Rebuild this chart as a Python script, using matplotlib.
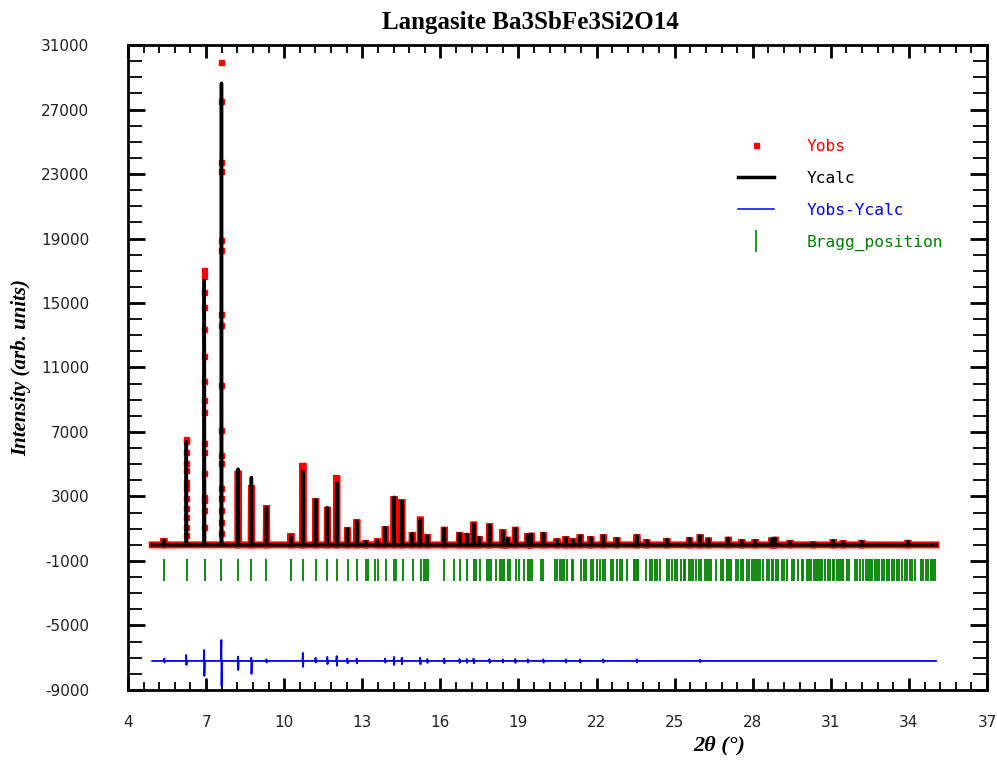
import matplotlib
matplotlib.use("Agg")
import matplotlib.pyplot as plt
from matplotlib.lines import Line2D

plt.rcParams["axes.unicode_minus"] = False

# ---- values ----
tth_range = [4.93, 35.04]        # measured 2theta range
background = 0.0
diff_offset = -7200.0
bragg_lo, bragg_hi = -2250.0, -900.0

x_major = [4, 7, 10, 13, 16, 19, 22, 25, 28, 31, 34, 37]
y_major = [-9000, -5000, -1000, 3000, 7000, 11000, 15000, 19000, 23000, 27000, 31000]

peak_pos = [5.38, 6.24, 6.93, 7.59, 8.23, 8.74, 9.32, 10.26, 10.72, 11.21,
            11.66, 12.02, 12.43, 12.79, 13.13, 13.58, 13.88, 14.22, 14.52, 14.92,
            15.23, 15.50, 16.15, 16.74, 17.02, 17.28, 17.49, 17.89, 18.40, 18.58,
            18.88, 19.36, 19.49, 19.96, 20.48, 20.82, 21.09, 21.37, 21.78, 22.26,
            22.78, 23.55, 23.93, 24.70, 25.57, 25.98, 26.30, 27.06, 27.58, 28.09,
            28.73, 28.86, 29.43, 30.32, 31.09, 31.47, 32.19, 33.96]
calc_top = [300, 6390, 16400, 28630, 4695, 4180, 2320, 550, 4530, 2800,
            2300, 3850, 1000, 1450, 200, 250, 1050, 2950, 2700, 700,
            1550, 550, 1000, 700, 650, 1300, 450, 1200, 850, 400,
            1000, 600, 650, 700, 300, 430, 300, 550, 430, 550,
            380, 550, 250, 330, 380, 550, 350, 400, 250, 250,
            350, 400, 200, 100, 250, 180, 200, 200]
obs_top = [420, 6550, 17070, 29930, 4600, 3700, 2450, 730, 5085, 2900,
           2360, 4320, 1080, 1580, 300, 400, 1160, 3020, 2840, 800,
           1750, 670, 1120, 800, 730, 1440, 530, 1340, 970, 500,
           1120, 720, 750, 800, 400, 530, 400, 650, 530, 650,
           480, 650, 350, 420, 480, 650, 450, 500, 350, 350,
           450, 500, 300, 200, 350, 280, 300, 300]

# observed profile points on the three strongest reflections
prof_624 = [6550, 6430, 5770, 5050, 4630, 3910, 3500, 2880, 2260, 1740, 1120, 610]
prof_693 = [17070, 16650, 15680, 14750, 13410, 11700, 10150, 8970, 8245, 6290,
            5770, 4430, 2980, 2770, 2150, 1120]
prof_759 = [29930, 27514, 23735, 23180, 18925, 18264, 14300, 13617, 9900, 7110,
            5560, 5050, 3500, 2880, 2150, 1430, 710]
strong_pos = [6.24, 6.93, 7.59]

# difference curve spikes: position, max, min
diff_pos = [5.40, 6.24, 6.93, 7.59, 8.23, 8.74, 9.32, 10.72, 11.21, 11.66,
            12.02, 12.43, 12.79, 13.88, 14.22, 14.52, 15.23, 15.50, 16.15, 16.74,
            17.02, 17.28, 17.89, 18.40, 18.88, 19.36, 19.96, 20.82, 21.37, 22.26,
            23.55, 25.98]
diff_hi = [-7050, -6830, -6520, -5900, -6930, -7000, -7100, -6700, -7000, -6950,
           -6900, -7050, -7050, -7050, -6950, -7000, -7000, -7080, -7050, -7080,
           -7080, -7050, -7080, -7100, -7080, -7100, -7100, -7100, -7100, -7100,
           -7100, -7120]
diff_lo = [-7300, -7450, -8130, -8750, -7760, -8000, -7300, -7570, -7300, -7400,
           -7500, -7350, -7350, -7300, -7450, -7400, -7400, -7320, -7350, -7320,
           -7320, -7350, -7320, -7300, -7320, -7300, -7300, -7300, -7300, -7300,
           -7300, -7280]

bragg_pos = [5.40, 6.27, 6.95, 7.59, 8.23, 8.74, 9.32, 10.26, 10.74, 11.22,
             11.66, 12.04, 12.44, 12.80, 13.13, 13.21, 13.50, 13.59, 13.91, 14.20,
             14.30, 14.55, 14.93, 15.25, 15.38, 15.45, 15.52, 16.15, 16.51, 16.76,
             17.02, 17.30, 17.38, 17.51, 17.79, 17.86, 17.94, 18.12, 18.30, 18.36,
             18.45, 18.58, 18.68, 18.91, 19.02, 19.22, 19.35, 19.43, 19.51, 19.86,
             19.96, 20.41, 20.47, 20.58, 20.67, 20.76, 20.86, 21.05, 21.11, 21.40,
             21.50, 21.60, 21.80, 21.88, 22.01, 22.14, 22.24, 22.33, 22.55, 22.62,
             22.80, 22.91, 22.97, 23.16, 23.42, 23.48, 23.55, 23.61, 23.90, 24.06,
             24.12, 24.24, 24.34, 24.44, 24.70, 24.80, 24.89, 25.02, 25.08, 25.23,
             25.34, 25.40, 25.57, 25.62, 25.72, 25.82, 25.95, 26.03, 26.16, 26.23,
             26.30, 26.39, 26.58, 26.78, 26.87, 27.00, 27.08, 27.15, 27.36, 27.45,
             27.54, 27.62, 27.79, 27.87, 27.96, 28.05, 28.13, 28.22, 28.28, 28.38,
             28.56, 28.63, 28.73, 28.79, 28.89, 28.98, 29.11, 29.20, 29.30, 29.50,
             29.59, 29.75, 29.88, 29.94, 30.10, 30.17, 30.25, 30.35, 30.43, 30.52,
             30.58, 30.67, 30.78, 30.90, 30.97, 31.07, 31.12, 31.22, 31.30, 31.38,
             31.48, 31.61, 31.71, 31.93, 32.02, 32.12, 32.25, 32.34, 32.41, 32.50,
             32.60, 32.70, 32.76, 32.86, 32.95, 33.05, 33.14, 33.25, 33.34, 33.42,
             33.53, 33.63, 33.72, 33.85, 33.94, 34.04, 34.12, 34.23, 34.45, 34.55,
             34.65, 34.74, 34.83, 34.93, 35.02]

title = "Langasite Ba3SbFe3Si2O14"
legend_labels = ["Yobs", "Ycalc", "Yobs-Ycalc", "Bragg_position"]


def stick_profile(pos, tops, base, hw, skip=()):
    xs, ys = [tth_range[0]], [base]
    for p, h in zip(pos, tops):
        if p in skip:
            continue
        xs += [p - hw, p, p + hw]
        ys += [base, h, base]
    xs.append(tth_range[1])
    ys.append(base)
    return xs, ys


fig = plt.figure(figsize=(9.97, 7.63), dpi=100)
ax = fig.add_axes([0.1284, 0.0957, 0.8616, 0.8453])

# observed: thick red band + points on the strong peaks
ox, oy = stick_profile(peak_pos, obs_top, background, 0.012, skip=strong_pos)
ax.plot(ox, oy, color="red", lw=5, solid_joinstyle="miter", zorder=2)
for p, prof in zip(strong_pos, [prof_624, prof_693, prof_759]):
    ax.plot([p] * len(prof), prof, ls="none", marker="s", ms=3.6,
            color="red", mec="red", zorder=2)

# calculated
cx, cy = stick_profile(peak_pos, calc_top, background, 0.012)
ax.plot(cx, cy, color="black", lw=2.5, zorder=3)

# difference
dx, dy = [tth_range[0]], [diff_offset]
for p, hi, lo in zip(diff_pos, diff_hi, diff_lo):
    dx += [p - 0.02, p - 0.004, p + 0.004, p + 0.02]
    dy += [diff_offset, hi, lo, diff_offset]
dx.append(tth_range[1])
dy.append(diff_offset)
ax.plot(dx, dy, color="blue", lw=1.3, zorder=2)

# Bragg positions
ax.vlines(bragg_pos, bragg_lo, bragg_hi, color="green", lw=1.3)

ax.set_xlim(4, 37)
ax.set_ylim(-9000, 31000)
ax.set_xticks(x_major)
ax.set_xticks([4 + 0.6 * i for i in range(56)], minor=True)
ax.set_yticks(y_major)
ax.set_yticks(range(-9000, 31001, 1000), minor=True)

ax.tick_params(which="both", direction="in", top=True, right=True,
               labelcolor="#222222")
ax.tick_params(axis="y", which="major", length=12, width=2, pad=28, labelsize=11)
ax.tick_params(axis="y", which="minor", length=10, width=1.3)
ax.tick_params(axis="x", which="major", length=9, width=2, pad=18, labelsize=11)
ax.tick_params(axis="x", which="minor", length=6, width=1.3)
for s in ax.spines.values():
    s.set_linewidth(2)

serif = ["Liberation Serif", "DejaVu Serif"]
ax.set_ylabel("Intensity (arb. units)", family=serif, fontweight="bold",
              fontstyle="italic", fontsize=15)
ax.yaxis.set_label_coords(-0.113, 0.5)
ax.set_xlabel("2θ (°)", family=serif, fontweight="bold", fontstyle="italic",
              fontsize=16)
ax.xaxis.set_label_coords(0.688, -0.071)
fig.text(0.532, 0.971, title, family=serif, fontweight="bold", fontsize=18,
         ha="center", va="center")

handles = [
    Line2D([], [], ls="none", marker="s", ms=3.6, color="red"),
    Line2D([], [], color="black", lw=2.5),
    Line2D([], [], color="blue", lw=1.1),
    Line2D([], [], ls="none", marker="|", ms=16, mew=1.2, color="green"),
]
leg = ax.legend(handles, legend_labels, loc="upper left",
                bbox_to_anchor=(0.710, 0.855), frameon=False, borderpad=0,
                borderaxespad=0, handlelength=2.2, handletextpad=2.0,
                labelspacing=1.05, prop={"family": "DejaVu Sans Mono", "size": 11.7})
for t, c in zip(leg.get_texts(), ["red", "black", "blue", "green"]):
    t.set_color(c)

fig.savefig("out.png", dpi=100)
